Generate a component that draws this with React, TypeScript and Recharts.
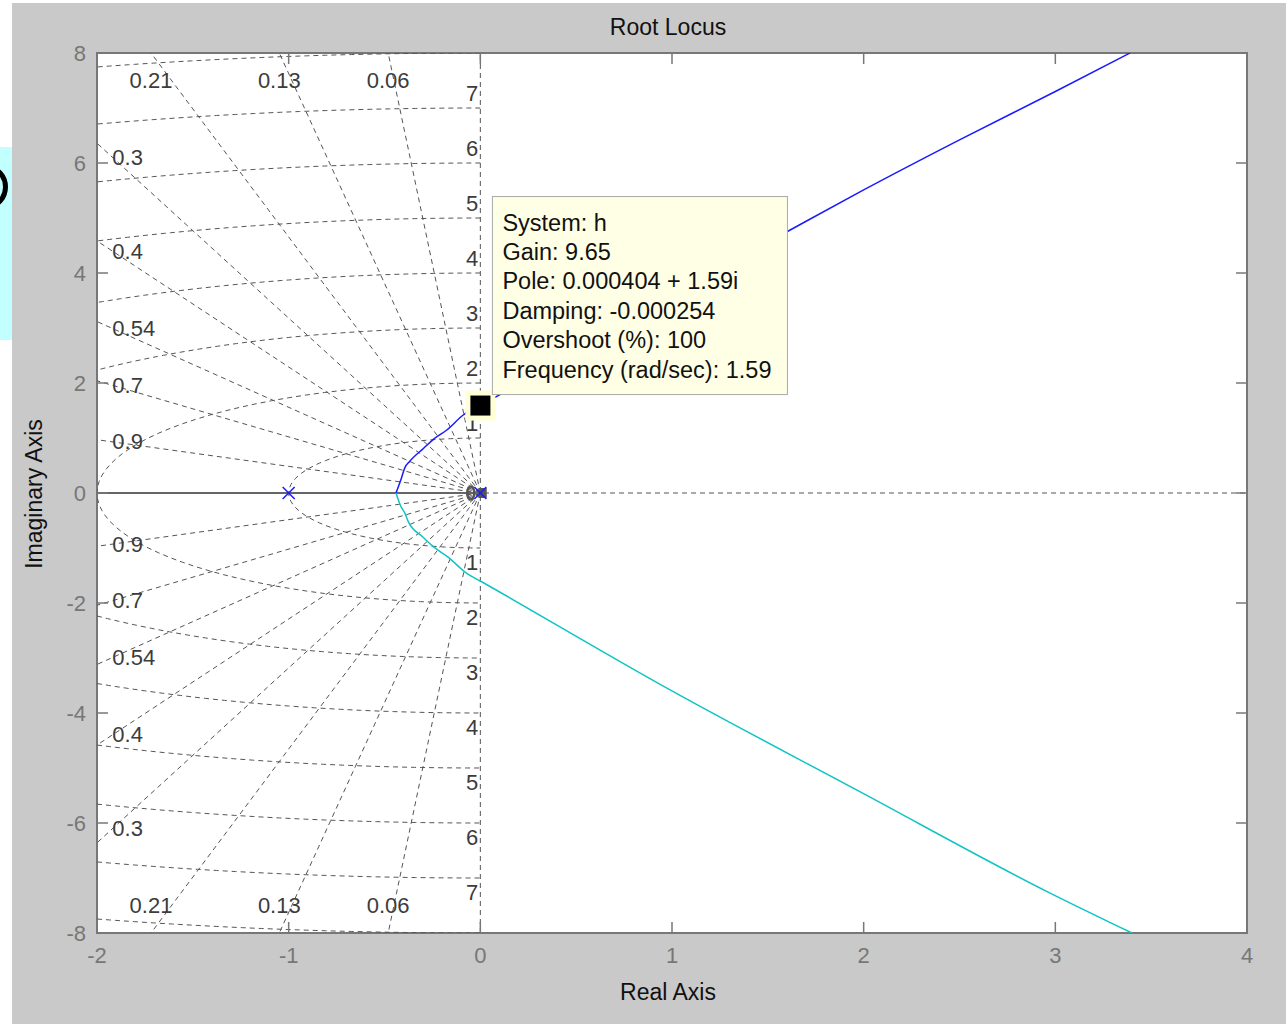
import React from "react";
import { ComposedChart, Line, Scatter, XAxis, YAxis, ReferenceLine } from "recharts";

const W = 1286;
const H = 1024;
const PLOT = { left: 97, top: 53, right: 1247, bottom: 933 };
const Y_AXIS_W = 60;
const X_AXIS_H = 40;
const TICK_LEN = 11;

const FONT = "'Liberation Sans', Arial, sans-serif";
const AXIS_COLOR = "#777777";
const TICK_TEXT = "#777777";
const GRID_COLOR = "#555555";
const GRID_DASH = "5 4";
const GRID_TEXT = "#3c3c3c";
const BLUE = "#1a1aff";
const CYAN = "#10c4c4";

const X_TICKS = [-2, -1, 0, 1, 2, 3, 4];
const Y_TICKS = [-8, -6, -4, -2, 0, 2, 4, 6, 8];

// sgrid: damping ratios and natural frequencies (rad/s)
const DAMPING = [0.06, 0.13, 0.21, 0.3, 0.4, 0.54, 0.7, 0.9];
const NAT_FREQ = [1, 2, 3, 4, 5, 6, 7, 8];
const FREQ_LABELS = [1, 2, 3, 4, 5, 6, 7];

// open-loop poles / zero
const POLE_RE = [-1, 0];
const ZERO_RE = [-0.05];

// upper complex branch (blue)
const UPPER_RE = [-0.44, -0.415, -0.393, -0.37, -0.297, -0.245, -0.175, -0.089, 0.000404, 1.0, 1.6, 2.0, 2.5, 3.0, 3.39];
const UPPER_IM = [0, 0.236, 0.467, 0.57, 0.81, 0.976, 1.145, 1.418, 1.59, 3.6, 4.75, 5.51, 6.42, 7.3, 8];

// lower complex branch (cyan)
const LOWER_RE = [-0.44, -0.415, -0.393, -0.376, -0.3, -0.245, -0.17, -0.071, 0, 0.99, 1.98, 2.97, 3.4];
const LOWER_IM = [0, -0.24, -0.37, -0.52, -0.8, -0.976, -1.16, -1.46, -1.6, -3.58, -5.43, -7.27, -8];

// real-axis branch
const REAL_BRANCH_RE = [-2, 0];

// data tip
const TIP_RE = 0.000404;
const TIP_IM = 1.59;
const TIP_LINES = [
  "System: h",
  "Gain: 9.65",
  "Pole: 0.000404 + 1.59i",
  "Damping: -0.000254",
  "Overshoot (%): 100",
  "Frequency (rad/sec): 1.59",
];

const X_MIN = -2;
const Y_MAX = 8;
const LEFT_LABEL_RE = -1.92;
const TOP_LABEL_IM = 7.5;

type Pt = { x: number; y: number };

const zip = (re: number[], im: number[]): Pt[] => re.map((x, i) => ({ x, y: im[i] }));

// damping rays from the origin to the edge of the view
function dampingRay(z: number, sign: number): Pt[] {
  const s = Math.sqrt(1 - z * z);
  const t = Math.min(-X_MIN / z, Y_MAX / s);
  return [
    { x: 0, y: 0 },
    { x: -z * t, y: sign * s * t },
  ];
}

// constant-wn arcs in the left half plane, cut at x = X_MIN
function freqArcs(wn: number): Pt[][] {
  const n = 60;
  const arc = (a: number, b: number) =>
    Array.from({ length: n + 1 }, (_, i) => {
      const t = a + ((b - a) * i) / n;
      return { x: -wn * Math.sin(t), y: wn * Math.cos(t) };
    });
  if (wn <= -X_MIN) return [arc(0, Math.PI)];
  const cut = Math.asin(-X_MIN / wn);
  return [arc(0, cut), arc(Math.PI - cut, Math.PI)];
}

const gridLines: Pt[][] = [
  ...DAMPING.flatMap((z) => [dampingRay(z, 1), dampingRay(z, -1)]),
  ...NAT_FREQ.flatMap((wn) => freqArcs(wn)),
];

const dampLabels = DAMPING.flatMap((z) => {
  const s = Math.sqrt(1 - z * z);
  const topExit = (Y_MAX * z) / s < -X_MIN;
  return [1, -1].map((sign) =>
    topExit
      ? { x: (-Y_MAX * z) / s, y: sign * TOP_LABEL_IM, text: String(z), anchor: "middle" }
      : { x: LEFT_LABEL_RE, y: (sign * -LEFT_LABEL_RE * s) / z, text: String(z), anchor: "start" }
  );
});

const freqLabels = FREQ_LABELS.flatMap((wn) => [
  { x: 0, y: wn, text: String(wn), dy: -15 },
  { x: 0, y: -wn, text: String(wn), dy: 14 },
]);

const upper = zip(UPPER_RE, UPPER_IM);
const lower = zip(LOWER_RE, LOWER_IM);
const realBranch = REAL_BRANCH_RE.map((x) => ({ x, y: 0 }));
const poles = POLE_RE.map((x) => ({ x, y: 0 }));
const zeros = ZERO_RE.map((x) => ({ x, y: 0 }));
const tip = [{ x: TIP_RE, y: TIP_IM }];

const textStyle = { fontFamily: FONT };

function XTick({ x, payload }: any) {
  return (
    <g>
      <line x1={x} x2={x} y1={PLOT.bottom} y2={PLOT.bottom - TICK_LEN} stroke={AXIS_COLOR} strokeWidth={1.5} />
      <line x1={x} x2={x} y1={PLOT.top} y2={PLOT.top + TICK_LEN} stroke={AXIS_COLOR} strokeWidth={1.5} />
      <text x={x} y={PLOT.bottom + 22} textAnchor="middle" dominantBaseline="central" fontSize={22} fill={TICK_TEXT} style={textStyle}>
        {payload.value}
      </text>
    </g>
  );
}

function YTick({ y, payload }: any) {
  return (
    <g>
      <line x1={PLOT.left} x2={PLOT.left + TICK_LEN} y1={y} y2={y} stroke={AXIS_COLOR} strokeWidth={1.5} />
      <line x1={PLOT.right} x2={PLOT.right - TICK_LEN} y1={y} y2={y} stroke={AXIS_COLOR} strokeWidth={1.5} />
      <text x={PLOT.left - 11} y={y} textAnchor="end" dominantBaseline="central" fontSize={22} fill={TICK_TEXT} style={textStyle}>
        {payload.value}
      </text>
    </g>
  );
}

const DampLabel = ({ cx, cy, payload }: any) => (
  <text x={cx} y={cy} textAnchor={payload.anchor} dominantBaseline="central" fontSize={22} fill={GRID_TEXT} style={textStyle}>
    {payload.text}
  </text>
);

const FreqLabel = ({ cx, cy, payload }: any) => (
  <text x={cx - 2} y={cy + payload.dy} textAnchor="end" dominantBaseline="central" fontSize={22} fill={GRID_TEXT} style={textStyle}>
    {payload.text}
  </text>
);

const PoleMark = ({ cx, cy }: any) => (
  <g stroke={BLUE} strokeWidth={1.5}>
    <line x1={cx - 6} y1={cy - 6} x2={cx + 6} y2={cy + 6} />
    <line x1={cx - 6} y1={cy + 6} x2={cx + 6} y2={cy - 6} />
  </g>
);

const ZeroMark = ({ cx, cy }: any) => (
  <g>
    <ellipse cx={cx} cy={cy} rx={3.5} ry={6.5} fill="none" stroke="#555" strokeWidth={2.5} />
    <rect x={cx + 8} y={cy - 5} width={8} height={10} fill="#555" />
  </g>
);

// selected point marker with its data-tip box
const DataTip = ({ cx, cy }: any) => (
  <g>
    <rect x={cx - 15} y={cy - 15} width={30} height={30} fill="#ffffd6" />
    <rect x={cx - 10} y={cy - 10} width={20} height={20} fill="#000" />
    <rect x={cx + 12} y={cy - 209} width={295} height={198} fill="#ffffe6" stroke="#a9a9a9" strokeWidth={1} />
    {TIP_LINES.map((line, i) => (
      <text
        key={line}
        x={cx + 22}
        y={cy - 183 + i * 29.4}
        dominantBaseline="central"
        fontSize={23.5}
        fill="#111"
        style={textStyle}
      >
        {line}
      </text>
    ))}
  </g>
);

export default function App() {
  return (
    <div style={{ position: "absolute", left: 0, top: 0, width: W, height: H, background: "#fff", overflow: "hidden" }}>
      <div style={{ position: "absolute", left: 12, top: 3, width: W - 12, height: H - 3, background: "#c9c9c9" }} />
      {/* strip of a neighbouring window at the left edge */}
      <div style={{ position: "absolute", left: 0, top: 147, width: 12, height: 193, background: "#c2ffff", overflow: "hidden" }}>
        <div
          style={{
            position: "absolute",
            left: -32,
            top: 18,
            width: 40,
            height: 44,
            borderRadius: "50%",
            border: "5px solid #000",
            boxSizing: "border-box",
          }}
        />
      </div>
      <div
        style={{
          position: "absolute",
          left: PLOT.left - 1,
          top: PLOT.top - 1,
          width: PLOT.right - PLOT.left + 2,
          height: PLOT.bottom - PLOT.top + 2,
          background: "#fff",
          border: `2px solid ${AXIS_COLOR}`,
          boxSizing: "border-box",
        }}
      />
      <div style={{ position: "absolute", left: 0, top: 0 }}>
        <ComposedChart
          width={W}
          height={H}
          margin={{
            top: PLOT.top,
            right: W - PLOT.right,
            bottom: H - PLOT.bottom - X_AXIS_H,
            left: PLOT.left - Y_AXIS_W,
          }}
        >
          <XAxis
            type="number"
            dataKey="x"
            domain={[-2, 4]}
            ticks={X_TICKS}
            interval={0}
            allowDataOverflow
            height={X_AXIS_H}
            axisLine={false}
            tickLine={false}
            tick={<XTick />}
          />
          <YAxis
            type="number"
            dataKey="y"
            domain={[-8, 8]}
            ticks={Y_TICKS}
            interval={0}
            allowDataOverflow
            width={Y_AXIS_W}
            axisLine={false}
            tickLine={false}
            tick={<YTick />}
          />
          <ReferenceLine x={0} stroke={GRID_COLOR} strokeDasharray={GRID_DASH} />
          <ReferenceLine y={0} stroke={GRID_COLOR} strokeDasharray={GRID_DASH} />
          {gridLines.map((pts, i) => (
            <Line
              key={`grid-${i}`}
              data={pts}
              dataKey="y"
              type="linear"
              stroke={GRID_COLOR}
              strokeWidth={1}
              strokeDasharray={GRID_DASH}
              dot={false}
              activeDot={false}
              legendType="none"
              isAnimationActive={false}
            />
          ))}
          <Line data={realBranch} dataKey="y" type="linear" stroke="#666666" strokeWidth={2} dot={false} activeDot={false} legendType="none" isAnimationActive={false} />
          <Scatter data={dampLabels} shape={<DampLabel />} legendType="none" isAnimationActive={false} />
          <Scatter data={freqLabels} shape={<FreqLabel />} legendType="none" isAnimationActive={false} />
          <Line data={upper} dataKey="y" type="monotone" stroke={BLUE} strokeWidth={1.5} dot={false} activeDot={false} legendType="none" isAnimationActive={false} />
          <Line data={lower} dataKey="y" type="monotone" stroke={CYAN} strokeWidth={1.5} dot={false} activeDot={false} legendType="none" isAnimationActive={false} />
          <Scatter data={zeros} shape={<ZeroMark />} legendType="none" isAnimationActive={false} />
          <Scatter data={poles} shape={<PoleMark />} legendType="none" isAnimationActive={false} />
          <Scatter data={tip} shape={<DataTip />} legendType="none" isAnimationActive={false} />
        </ComposedChart>
      </div>
      <div style={{ position: "absolute", left: 668, top: 27, transform: "translate(-50%, -50%)", fontFamily: FONT, fontSize: 23, lineHeight: 1, color: "#111", whiteSpace: "nowrap" }}>
        Root Locus
      </div>
      <div style={{ position: "absolute", left: 668, top: 992, transform: "translate(-50%, -50%)", fontFamily: FONT, fontSize: 23, lineHeight: 1, color: "#111", whiteSpace: "nowrap" }}>
        Real Axis
      </div>
      <div style={{ position: "absolute", left: 34, top: 494, transform: "translate(-50%, -50%) rotate(-90deg)", fontFamily: FONT, fontSize: 23, lineHeight: 1, color: "#111", whiteSpace: "nowrap" }}>
        Imaginary Axis
      </div>
    </div>
  );
}
